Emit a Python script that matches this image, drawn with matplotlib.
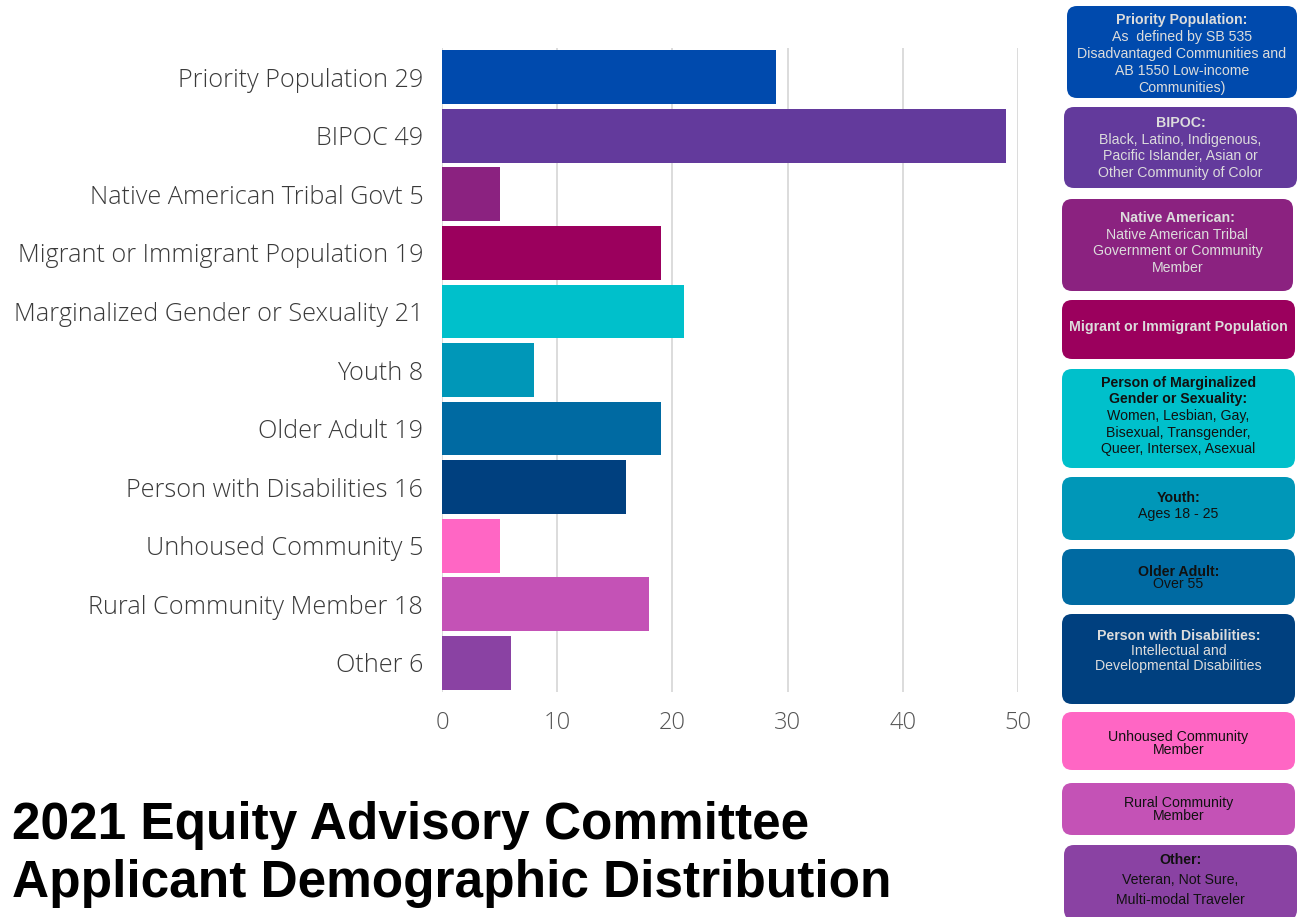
import matplotlib
matplotlib.use("Agg")
import matplotlib.pyplot as plt
from matplotlib.patches import FancyBboxPatch

categories = ["Priority Population", "BIPOC", "Native American Tribal Govt",
              "Migrant or Immigrant Population", "Marginalized Gender or Sexuality",
              "Youth", "Older Adult", "Person with Disabilities", "Unhoused Community",
              "Rural Community Member", "Other"]
values = [29, 49, 5, 19, 21, 8, 19, 16, 5, 18, 6]
colors = ["#004AAD", "#633A9C", "#8B2280", "#9B005D", "#00C0CB", "#0097B8",
          "#006AA2", "#00407F", "#FF66C4", "#C452B6", "#8A42A3"]
xticks = [0, 10, 20, 30, 40, 50]

box_texts = [
    (["Priority Population:"], ["As  defined by SB 535", "Disadvantaged Communities and", "AB 1550 Low-income", "Communities)"]),
    (["BIPOC:"], ["Black, Latino, Indigenous,", "Pacific Islander, Asian or", "Other Community of Color"]),
    (["Native American:"], ["Native American Tribal", "Government or Community", "Member"]),
    (["Migrant or Immigrant Population"], []),
    (["Person of Marginalized", "Gender or Sexuality:"], ["Women, Lesbian, Gay,", "Bisexual, Transgender,", "Queer, Intersex, Asexual"]),
    (["Youth:"], ["Ages 18 - 25"]),
    (["Older Adult:"], ["Over 55"]),
    (["Person with Disabilities:"], ["Intellectual and", "Developmental Disabilities"]),
    ([], ["Unhoused Community", "Member"]),
    ([], ["Rural Community", "Member"]),
    (["Other:"], ["Veteran, Not Sure,", "Multi-modal Traveler"]),
]
box_text_colors = ["#dcdcdc", "#dcdcdc", "#dcdcdc", "#dcdcdc", "#111111", "#111111",
                   "#111111", "#dcdcdc", "#111111", "#111111", "#111111"]

W, H = 1299, 917
fig = plt.figure(figsize=(W / 100, H / 100), dpi=100)
fig.patch.set_facecolor("white")

ax = fig.add_axes([442 / W, 1 - 692 / H, (1018 - 442) / W, (692 - 48) / H])
ypos = list(range(len(categories)))
ax.barh(ypos, values, height=0.92, color=colors, zorder=3)
ax.set_ylim(len(categories) - 0.5, -0.5)
ax.set_xlim(0, 50)
ax.set_xticks(xticks)
ax.set_yticks(ypos)
ax.set_yticklabels([f"{c} {v}" for c, v in zip(categories, values)])
for s in ax.spines.values():
    s.set_visible(False)
ax.grid(axis="x", color="#d9d9d9", linewidth=1.3, zorder=0)
ax.tick_params(axis="both", length=0)
ax.tick_params(axis="y", pad=13.5)
ax.tick_params(axis="x", pad=14)
for lab in ax.get_yticklabels():
    lab.set_fontfamily("Open Sans")
    lab.set_fontweight("light")
    lab.set_fontsize(18.2)
    lab.set_color("#3a3a3a")
for lab in ax.get_xticklabels():
    lab.set_fontfamily("Open Sans")
    lab.set_fontweight("light")
    lab.set_fontsize(17)
    lab.set_color("#555555")

# overlay in pixel coordinates
ov = fig.add_axes([0, 0, 1, 1])
ov.set_xlim(0, W)
ov.set_ylim(H, 0)
ov.axis("off")

box_geom = [(1067, 6, 1297, 98), (1064, 107, 1297, 188), (1062, 199, 1293, 291),
            (1062, 300, 1295, 359), (1062, 369, 1295, 468), (1062, 477, 1295, 540),
            (1062, 549, 1295, 605), (1062, 614, 1295, 704), (1062, 712, 1295, 770),
            (1062, 783, 1295, 835), (1064, 845, 1297, 920)]
text_centers = [54, 148, 243, 327, 416, 506, 578, 651, 744, 809, 880]
line_sp = [17, 16.5, 16.5, 16, 16.7, 16, 13, 15, 13, 13, 20]

for (x0, y0, x1, y1), col, tcol, (heads, body), cy, sp in zip(
        box_geom, colors, box_text_colors, box_texts, text_centers, line_sp):
    p = FancyBboxPatch((x0, y0), x1 - x0, y1 - y0,
                       boxstyle="round,pad=0,rounding_size=10",
                       facecolor=col, edgecolor="none")
    ov.add_patch(p)
    lines = [(h, "bold") for h in heads] + [(b, "normal") for b in body]
    n = len(lines)
    xc = (x0 + x1) / 2
    for i, (t, w) in enumerate(lines):
        yy = cy + (i - (n - 1) / 2) * sp
        ov.text(xc, yy, t, ha="center", va="center", fontsize=10.2,
                fontweight=w, color=tcol, family="Liberation Sans")

ov.text(12, 826, "2021 Equity Advisory Committee", ha="left", va="center",
        fontsize=37, fontweight="bold", family="Liberation Sans", color="black")
ov.text(12, 884, "Applicant Demographic Distribution", ha="left", va="center",
        fontsize=37, fontweight="bold", family="Liberation Sans", color="black")

fig.savefig("out.png", dpi=100)
